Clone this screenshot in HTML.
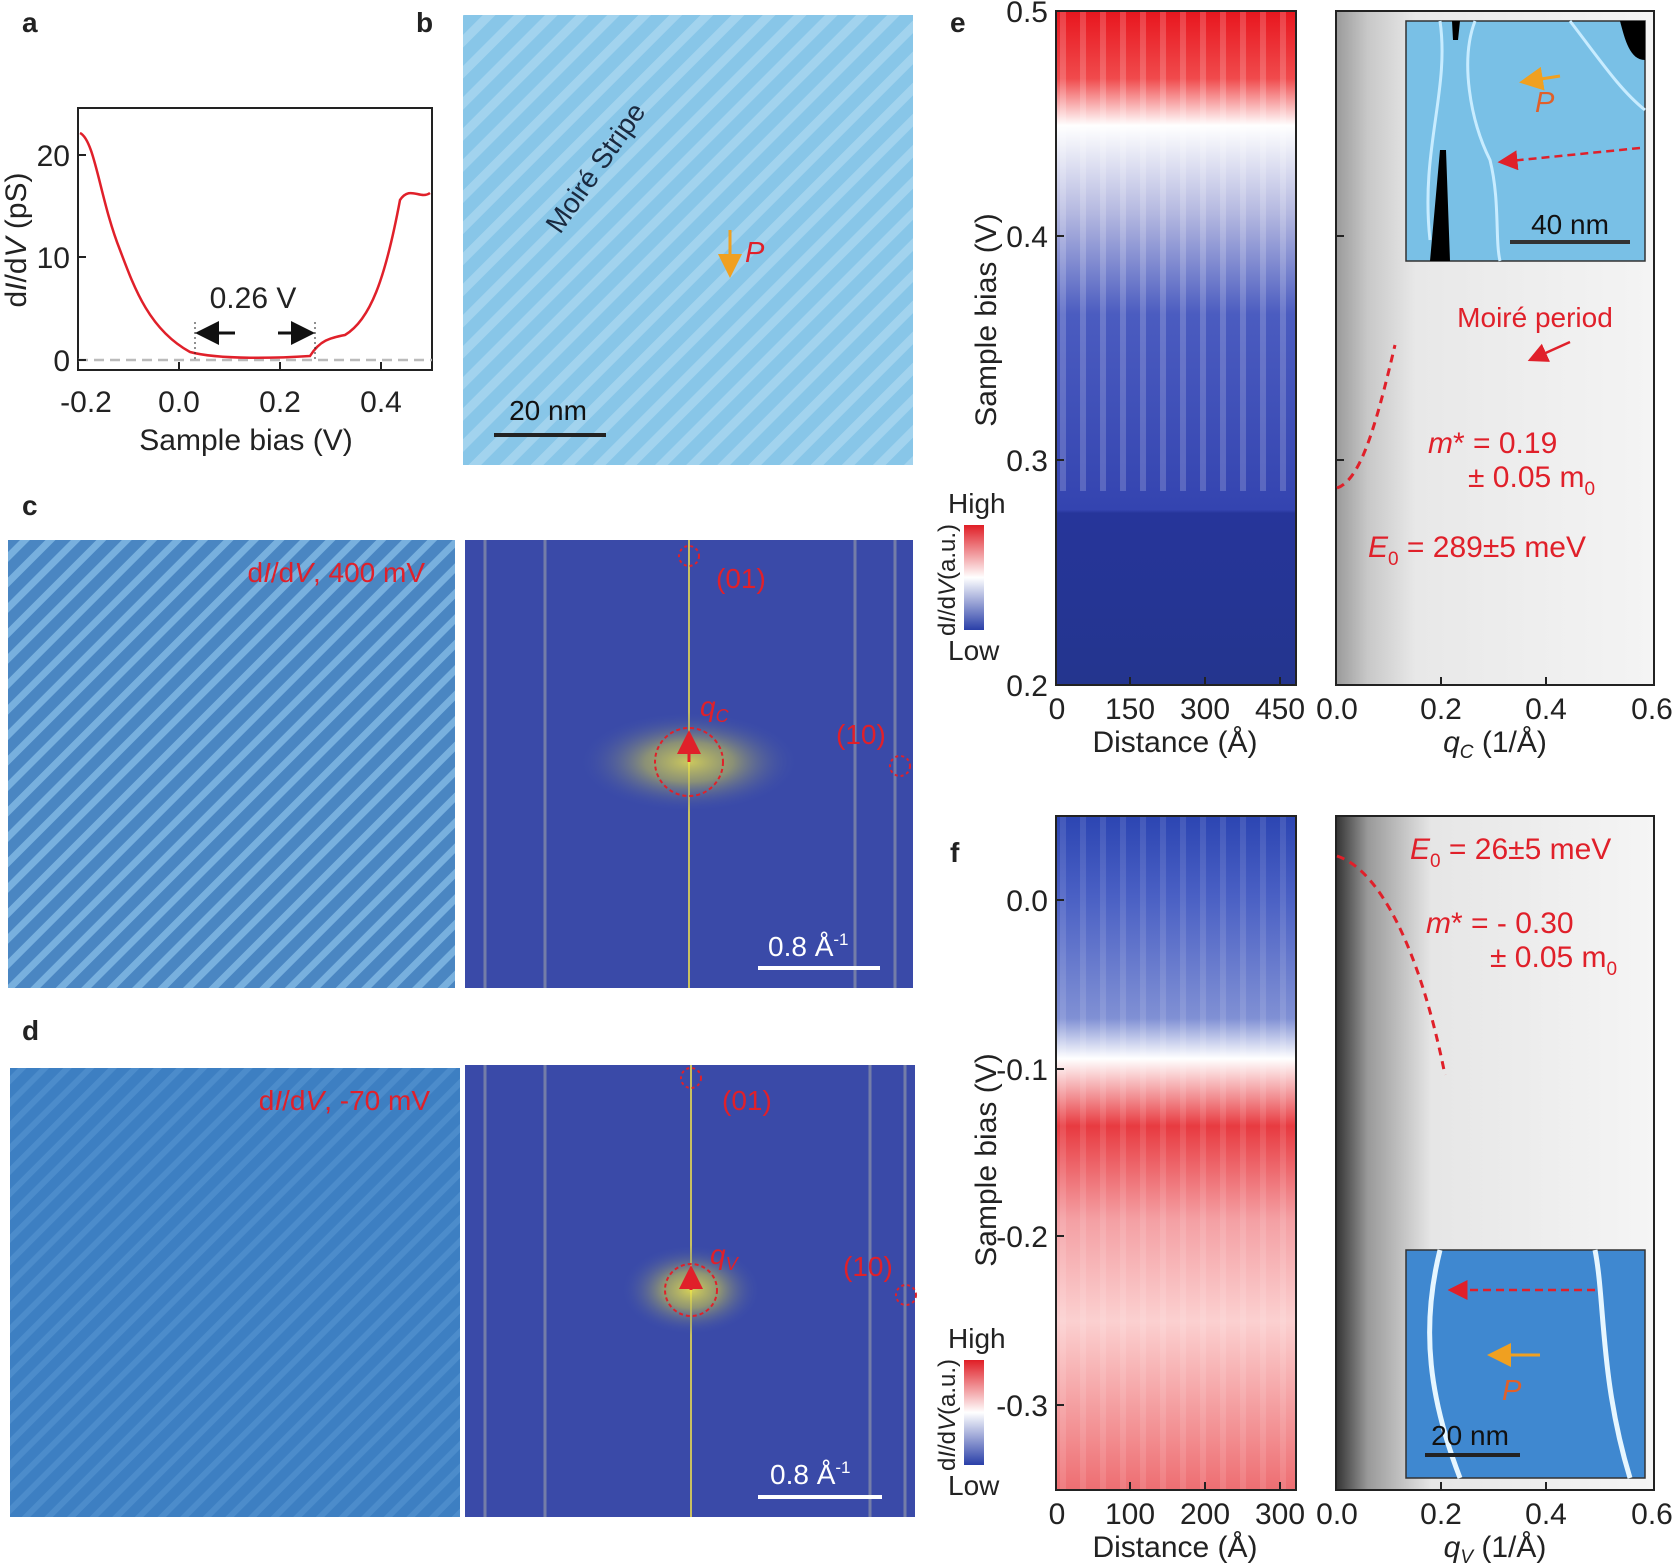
<!DOCTYPE html>
<html><head><meta charset="utf-8"><style>
html,body{margin:0;padding:0;background:#fff}
svg{display:block}
text{font-family:"Liberation Sans",Arial,sans-serif}
</style></head><body>
<svg width="1673" height="1565" viewBox="0 0 1673 1565" xmlns="http://www.w3.org/2000/svg">
<defs>
<pattern id="stripeB" width="22" height="22" patternUnits="userSpaceOnUse" patternTransform="rotate(-45)">
<rect width="22" height="22" fill="#88c6e8"/><rect width="22" height="9" fill="#a2d3ee"/></pattern>
<pattern id="stripeC" width="18" height="18" patternUnits="userSpaceOnUse" patternTransform="rotate(-45)">
<rect width="18" height="18" fill="#4a86c2"/><rect width="18" height="7" fill="#78b0de"/></pattern>
<pattern id="stripeD" width="16" height="16" patternUnits="userSpaceOnUse" patternTransform="rotate(-45)">
<rect width="16" height="16" fill="#3d7fc2"/><rect width="16" height="6" fill="#4c8ccb"/></pattern>
<pattern id="vstreak" width="20" height="10" patternUnits="userSpaceOnUse">
<rect width="20" height="10" fill="none"/><rect width="6" height="10" fill="#fff" opacity="0.18"/></pattern>
<linearGradient id="heatE" x1="0" y1="0" x2="0" y2="1">
<stop offset="0" stop-color="#e8161e"/><stop offset="0.1" stop-color="#f04a4c"/><stop offset="0.17" stop-color="#ffffff"/>
<stop offset="0.3" stop-color="#b4b8e0"/><stop offset="0.45" stop-color="#4b5cc0"/><stop offset="0.74" stop-color="#3444b0"/>
<stop offset="0.745" stop-color="#26359a"/><stop offset="1" stop-color="#24358e"/></linearGradient>
<linearGradient id="heatF" x1="0" y1="0" x2="0" y2="1">
<stop offset="0" stop-color="#2c45b2"/><stop offset="0.12" stop-color="#4a60c4"/><stop offset="0.3" stop-color="#8090d4"/>
<stop offset="0.36" stop-color="#ffffff"/><stop offset="0.46" stop-color="#e83a40"/><stop offset="0.6" stop-color="#f4a0a4"/>
<stop offset="0.75" stop-color="#fbd0d0"/><stop offset="1" stop-color="#ee6e72"/></linearGradient>
<linearGradient id="cbar" x1="0" y1="0" x2="0" y2="1">
<stop offset="0" stop-color="#e01e26"/><stop offset="0.5" stop-color="#ffffff"/><stop offset="1" stop-color="#2a3fa8"/></linearGradient>
<linearGradient id="grayE" x1="0" y1="0" x2="1" y2="0">
<stop offset="0" stop-color="#9a9a9a"/><stop offset="0.1" stop-color="#c8c8c8"/><stop offset="0.25" stop-color="#e8e8e8"/><stop offset="1" stop-color="#f4f4f4"/></linearGradient>
<linearGradient id="grayF" x1="0" y1="0" x2="1" y2="0">
<stop offset="0" stop-color="#333"/><stop offset="0.1" stop-color="#999"/><stop offset="0.3" stop-color="#e6e6e6"/><stop offset="1" stop-color="#f5f5f5"/></linearGradient>
<radialGradient id="fftGlow"><stop offset="0" stop-color="#f0e84a"/><stop offset="0.4" stop-color="#b8b85a" stop-opacity="0.8"/><stop offset="1" stop-color="#3a4fb0" stop-opacity="0"/></radialGradient>
<marker id="arK" markerWidth="8" markerHeight="8" refX="7" refY="4" orient="auto"><path d="M0,0L8,4L0,8z" fill="#111"/></marker>
<marker id="arR" markerWidth="8" markerHeight="8" refX="7" refY="4" orient="auto"><path d="M0,0L8,4L0,8z" fill="#e0202a"/></marker>
<marker id="arO" markerWidth="8" markerHeight="8" refX="7" refY="4" orient="auto"><path d="M0,0L8,4L0,8z" fill="#f0a020"/></marker>
</defs>

<g font-weight="bold" font-size="28" fill="#222">
<text x="22" y="32">a</text><text x="416" y="32">b</text><text x="22" y="515">c</text>
<text x="22" y="1040">d</text><text x="950" y="32">e</text><text x="950" y="862">f</text></g>

<!-- panel a -->
<rect x="78" y="108" width="354" height="262" fill="none" stroke="#222" stroke-width="2"/>
<line x1="78" y1="360" x2="432" y2="360" stroke="#bbb" stroke-width="2.5" stroke-dasharray="10,6"/>
<path d="M80,133 C95,140 100,200 120,250 C135,290 150,330 190,352 C220,360 280,358 310,356 C320,340 330,338 345,335 C370,320 385,280 400,200 C410,185 420,200 430,193" fill="none" stroke="#e0202a" stroke-width="2.5"/>
<g stroke="#222" stroke-width="2"><line x1="179" y1="370" x2="179" y2="362"/><line x1="280" y1="370" x2="280" y2="362"/><line x1="381" y1="370" x2="381" y2="362"/>
<line x1="78" y1="360" x2="86" y2="360"/><line x1="78" y1="257" x2="86" y2="257"/><line x1="78" y1="155" x2="86" y2="155"/></g>
<g font-size="30" fill="#222" text-anchor="middle"><text x="86" y="412">-0.2</text><text x="179" y="412">0.0</text><text x="280" y="412">0.2</text><text x="381" y="412">0.4</text>
<text x="246" y="450">Sample bias (V)</text></g>
<g font-size="30" fill="#222" text-anchor="end"><text x="70" y="371">0</text><text x="70" y="268">10</text><text x="70" y="166">20</text></g>
<text transform="translate(26,240) rotate(-90)" font-size="30" text-anchor="middle" fill="#222">d<tspan font-style="italic">I</tspan>/d<tspan font-style="italic">V</tspan> (pS)</text>
<line x1="195" y1="322" x2="195" y2="360" stroke="#222" stroke-dasharray="2,3"/><line x1="315" y1="322" x2="315" y2="360" stroke="#222" stroke-dasharray="2,3"/>
<line x1="235" y1="333" x2="198" y2="333" stroke="#111" stroke-width="3" marker-end="url(#arK)"/>
<line x1="278" y1="333" x2="312" y2="333" stroke="#111" stroke-width="3" marker-end="url(#arK)"/>
<text x="253" y="308" font-size="30" text-anchor="middle" fill="#222">0.26 V</text>

<!-- panel b -->
<rect x="463" y="15" width="450" height="450" fill="url(#stripeB)"/>
<text transform="translate(560,235) rotate(-55)" font-size="28" fill="#1a2a40">Moiré Stripe</text>
<line x1="730" y1="230" x2="730" y2="275" stroke="#f0a020" stroke-width="3" marker-end="url(#arO)"/>
<text x="745" y="262" font-size="29" font-style="italic" fill="#e0202a">P</text>
<text x="548" y="420" font-size="28" text-anchor="middle" fill="#111">20 nm</text>
<line x1="494" y1="435" x2="606" y2="435" stroke="#222" stroke-width="4"/>

<!-- panel c -->
<rect x="8" y="540" width="447" height="448" fill="url(#stripeC)"/>
<text x="425" y="582" font-size="28" text-anchor="end" fill="#e0202a">d<tspan font-style="italic">I</tspan>/d<tspan font-style="italic">V</tspan>, 400 mV</text>
<rect x="465" y="540" width="448" height="448" fill="#3a4aa8"/>
<g stroke="#8d93a8" stroke-width="3" opacity="0.7"><line x1="485" y1="540" x2="485" y2="988"/><line x1="545" y1="540" x2="545" y2="988"/><line x1="855" y1="540" x2="855" y2="988"/><line x1="895" y1="540" x2="895" y2="988"/></g>
<line x1="689" y1="540" x2="689" y2="988" stroke="#c8c060" stroke-width="2"/>
<ellipse cx="689" cy="762" rx="110" ry="50" fill="url(#fftGlow)" opacity="0.8"/>
<circle cx="689" cy="762" r="34" fill="none" stroke="#e0202a" stroke-width="2" stroke-dasharray="4,3"/>
<line x1="689" y1="762" x2="689" y2="733" stroke="#e0202a" stroke-width="3" marker-end="url(#arR)"/>
<circle cx="689" cy="556" r="10" fill="none" stroke="#e0202a" stroke-width="2" stroke-dasharray="3,3"/>
<circle cx="900" cy="766" r="10" fill="none" stroke="#e0202a" stroke-width="2" stroke-dasharray="3,3"/>
<g font-size="28" fill="#e0202a"><text x="716" y="588">(01)</text><text x="836" y="744">(10)</text><text x="700" y="716" font-style="italic">q<tspan font-size="18" dy="6">C</tspan></text></g>
<text x="768" y="956" font-size="28" fill="#fff">0.8  Å<tspan font-size="17" dy="-11">-1</tspan></text>
<line x1="758" y1="968" x2="880" y2="968" stroke="#fff" stroke-width="4"/>

<!-- panel d -->
<rect x="10" y="1068" width="450" height="449" fill="url(#stripeD)"/>
<text x="430" y="1110" font-size="28" text-anchor="end" fill="#e0202a">d<tspan font-style="italic">I</tspan>/d<tspan font-style="italic">V</tspan>, -70 mV</text>
<rect x="465" y="1065" width="450" height="452" fill="#3a4aa8"/>
<g stroke="#8d93a8" stroke-width="3" opacity="0.7"><line x1="485" y1="1065" x2="485" y2="1517"/><line x1="545" y1="1065" x2="545" y2="1517"/><line x1="870" y1="1065" x2="870" y2="1517"/><line x1="905" y1="1065" x2="905" y2="1517"/></g>
<line x1="691" y1="1065" x2="691" y2="1517" stroke="#c8c060" stroke-width="2"/>
<ellipse cx="691" cy="1290" rx="70" ry="45" fill="url(#fftGlow)" opacity="0.85"/>
<circle cx="691" cy="1290" r="26" fill="none" stroke="#e0202a" stroke-width="2" stroke-dasharray="4,3"/>
<line x1="691" y1="1290" x2="691" y2="1268" stroke="#e0202a" stroke-width="3" marker-end="url(#arR)"/>
<circle cx="691" cy="1078" r="10" fill="none" stroke="#e0202a" stroke-width="2" stroke-dasharray="3,3"/>
<circle cx="906" cy="1295" r="10" fill="none" stroke="#e0202a" stroke-width="2" stroke-dasharray="3,3"/>
<g font-size="28" fill="#e0202a"><text x="722" y="1110">(01)</text><text x="843" y="1276">(10)</text><text x="710" y="1264" font-style="italic">q<tspan font-size="18" dy="6">V</tspan></text></g>
<text x="770" y="1484" font-size="28" fill="#fff">0.8  Å<tspan font-size="17" dy="-11">-1</tspan></text>
<line x1="758" y1="1497" x2="882" y2="1497" stroke="#fff" stroke-width="4"/>

<!-- panel e -->
<rect x="1056" y="11" width="240" height="674" fill="url(#heatE)"/>
<rect x="1056" y="11" width="240" height="480" fill="url(#vstreak)"/>
<rect x="1056" y="11" width="240" height="674" fill="none" stroke="#222" stroke-width="2"/>
<rect x="1336" y="11" width="318" height="674" fill="url(#grayE)" stroke="#222" stroke-width="2"/>
<rect x="1406" y="21" width="239" height="240" fill="#79c0e6" stroke="#333" stroke-width="1.5"/>
<path d="M1440,21 C1450,90 1420,150 1430,240 M1475,21 C1460,60 1470,120 1490,160 C1500,200 1495,240 1500,261 M1570,21 C1600,60 1620,90 1645,110" fill="none" stroke="#c8ecff" stroke-width="3"/>
<path d="M1620,21 L1645,21 L1645,60 C1630,60 1625,40 1620,21z M1440,150 L1446,150 L1450,261 L1430,261z M1452,21 L1460,21 L1458,40 L1453,40z" fill="#000"/>
<line x1="1560" y1="76" x2="1522" y2="82" stroke="#f0a020" stroke-width="3" marker-end="url(#arO)"/>
<text x="1535" y="112" font-size="29" font-style="italic" fill="#e0602a">P</text>
<line x1="1640" y1="148" x2="1500" y2="162" stroke="#e0202a" stroke-width="2.5" stroke-dasharray="8,5" marker-end="url(#arR)"/>
<text x="1570" y="234" font-size="28" text-anchor="middle" fill="#111">40 nm</text>
<line x1="1510" y1="242" x2="1630" y2="242" stroke="#333" stroke-width="4"/>
<text x="1535" y="327" font-size="28" text-anchor="middle" fill="#e0202a">Moiré period</text>
<line x1="1570" y1="342" x2="1530" y2="360" stroke="#e0202a" stroke-width="2.5" marker-end="url(#arR)"/>
<path d="M1337,488 C1360,480 1375,430 1395,345" fill="none" stroke="#e0202a" stroke-width="3" stroke-dasharray="8,6"/>
<g font-size="30" fill="#e0202a"><text x="1428" y="453"><tspan font-style="italic">m</tspan>* = 0.19</text><text x="1468" y="487">± 0.05 m<tspan font-size="19" dy="8">0</tspan></text>
<text x="1368" y="557"><tspan font-style="italic">E</tspan><tspan font-size="19" dy="8">0</tspan><tspan dy="-8"> = 289±5 meV</tspan></text></g>
<g stroke="#222" stroke-width="2"><line x1="1056" y1="236" x2="1064" y2="236"/><line x1="1056" y1="460" x2="1064" y2="460"/>
<line x1="1130" y1="685" x2="1130" y2="677"/><line x1="1205" y1="685" x2="1205" y2="677"/><line x1="1280" y1="685" x2="1280" y2="677"/>
<line x1="1336" y1="236" x2="1344" y2="236"/><line x1="1336" y1="460" x2="1344" y2="460"/>
<line x1="1441" y1="685" x2="1441" y2="677"/><line x1="1546" y1="685" x2="1546" y2="677"/></g>
<g font-size="30" fill="#222" text-anchor="end"><text x="1048" y="22">0.5</text><text x="1048" y="247">0.4</text><text x="1048" y="471">0.3</text><text x="1048" y="696">0.2</text></g>
<g font-size="30" fill="#222" text-anchor="middle"><text x="1057" y="719">0</text><text x="1130" y="719">150</text><text x="1205" y="719">300</text><text x="1280" y="719">450</text>
<text x="1175" y="752">Distance (Å)</text>
<text x="1337" y="719">0.0</text><text x="1441" y="719">0.2</text><text x="1546" y="719">0.4</text><text x="1652" y="719">0.6</text>
<text x="1495" y="752"><tspan font-style="italic">q<tspan font-size="19" dy="6">C</tspan></tspan><tspan dy="-6"> (1/Å)</tspan></text></g>
<text transform="translate(996,320) rotate(-90)" font-size="30" text-anchor="middle" fill="#222">Sample bias (V)</text>
<rect x="964" y="525" width="20" height="105" fill="url(#cbar)"/>
<text x="948" y="513" font-size="28" fill="#222">High</text><text x="948" y="660" font-size="28" fill="#222">Low</text>
<text transform="translate(955,580) rotate(-90)" font-size="24" text-anchor="middle" fill="#222">d<tspan font-style="italic">I</tspan>/d<tspan font-style="italic">V</tspan>(a.u.)</text>

<!-- panel f -->
<rect x="1056" y="816" width="240" height="674" fill="url(#heatF)"/>
<rect x="1056" y="816" width="240" height="674" fill="url(#vstreak)" opacity="0.6"/>
<rect x="1056" y="816" width="240" height="674" fill="none" stroke="#222" stroke-width="2"/>
<rect x="1336" y="816" width="318" height="674" fill="url(#grayF)" stroke="#222" stroke-width="2"/>
<rect x="1406" y="1250" width="239" height="228" fill="#3f88d0" stroke="#333" stroke-width="1.5"/>
<path d="M1440,1250 C1420,1330 1430,1400 1460,1478 M1595,1250 C1605,1300 1600,1380 1630,1478" fill="none" stroke="#e6f6ff" stroke-width="5"/>
<line x1="1595" y1="1290" x2="1450" y2="1290" stroke="#e0202a" stroke-width="2.5" stroke-dasharray="8,5" marker-end="url(#arR)"/>
<line x1="1540" y1="1355" x2="1490" y2="1355" stroke="#f0a020" stroke-width="3" marker-end="url(#arO)"/>
<text x="1502" y="1400" font-size="29" font-style="italic" fill="#e0602a">P</text>
<text x="1470" y="1445" font-size="28" text-anchor="middle" fill="#111">20 nm</text>
<line x1="1425" y1="1455" x2="1520" y2="1455" stroke="#222" stroke-width="4"/>
<path d="M1337,856 C1380,870 1420,950 1445,1075" fill="none" stroke="#e0202a" stroke-width="3" stroke-dasharray="8,6"/>
<g font-size="30" fill="#e0202a"><text x="1410" y="859"><tspan font-style="italic">E</tspan><tspan font-size="19" dy="8">0</tspan><tspan dy="-8"> = 26±5 meV</tspan></text>
<text x="1426" y="933"><tspan font-style="italic">m</tspan>* = - 0.30</text><text x="1490" y="967">± 0.05 m<tspan font-size="19" dy="8">0</tspan></text></g>
<g stroke="#222" stroke-width="2"><line x1="1056" y1="900" x2="1064" y2="900"/><line x1="1056" y1="1069" x2="1064" y2="1069"/><line x1="1056" y1="1236" x2="1064" y2="1236"/><line x1="1056" y1="1405" x2="1064" y2="1405"/>
<line x1="1130" y1="1490" x2="1130" y2="1482"/><line x1="1205" y1="1490" x2="1205" y2="1482"/><line x1="1280" y1="1490" x2="1280" y2="1482"/>
<line x1="1441" y1="1490" x2="1441" y2="1482"/><line x1="1546" y1="1490" x2="1546" y2="1482"/></g>
<g font-size="30" fill="#222" text-anchor="end"><text x="1048" y="911">0.0</text><text x="1048" y="1080">-0.1</text><text x="1048" y="1247">-0.2</text><text x="1048" y="1416">-0.3</text></g>
<g font-size="30" fill="#222" text-anchor="middle"><text x="1057" y="1524">0</text><text x="1130" y="1524">100</text><text x="1205" y="1524">200</text><text x="1280" y="1524">300</text>
<text x="1175" y="1557">Distance (Å)</text>
<text x="1337" y="1524">0.0</text><text x="1441" y="1524">0.2</text><text x="1546" y="1524">0.4</text><text x="1652" y="1524">0.6</text>
<text x="1495" y="1557"><tspan font-style="italic">q<tspan font-size="19" dy="6">V</tspan></tspan><tspan dy="-6"> (1/Å)</tspan></text></g>
<text transform="translate(996,1160) rotate(-90)" font-size="30" text-anchor="middle" fill="#222">Sample bias (V)</text>
<rect x="964" y="1360" width="20" height="105" fill="url(#cbar)"/>
<text x="948" y="1348" font-size="28" fill="#222">High</text><text x="948" y="1495" font-size="28" fill="#222">Low</text>
<text transform="translate(955,1415) rotate(-90)" font-size="24" text-anchor="middle" fill="#222">d<tspan font-style="italic">I</tspan>/d<tspan font-style="italic">V</tspan>(a.u.)</text>
</svg>
</body></html>
